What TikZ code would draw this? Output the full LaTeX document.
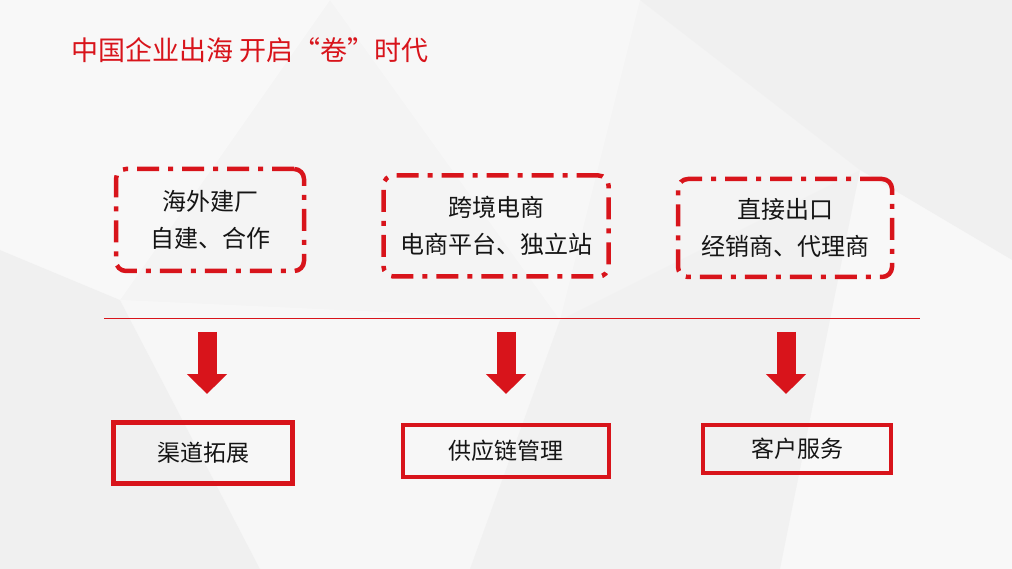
\documentclass[tikz,border=0pt]{standalone}
\usepackage{fontspec}
\setmainfont{Noto Sans CJK SC}
\usetikzlibrary{arrows.meta}
\definecolor{hred}{HTML}{D8141B}
\definecolor{ink}{HTML}{151515}
\tikzset{
  dashbox/.style={draw=hred, line width=4.5pt, rounded corners=10pt,
    dash pattern=on 22pt off 9pt on 5pt off 9pt, align=center,
    font=\fontsize{24}{37}\selectfont, text=ink, inner sep=0pt},
  solidbox/.style={draw=hred, line width=4.5pt, font=\fontsize{23}{26}\selectfont,
    text=ink, inner sep=0pt},
}
\begin{document}
\begin{tikzpicture}[x=1pt,y=-1pt]
  \useasboundingbox (0,0) rectangle (1012,569);
  % background facets
  \fill[gray!9] (0,0) rectangle (1012,569);
  \fill[white,opacity=.45] (0,0) -- (330,0) -- (120,300) -- (0,250) -- cycle;
  \fill[white,opacity=.35] (330,0) -- (640,0) -- (560,320) -- cycle;
  \fill[gray!14,opacity=.5] (640,0) -- (1012,0) -- (1012,260) -- (860,170) -- cycle;
  \fill[white,opacity=.4] (860,170) -- (1012,260) -- (1012,569) -- (780,569) -- cycle;
  \fill[gray!13,opacity=.5] (0,250) -- (120,300) -- (260,569) -- (0,569) -- cycle;
  \fill[white,opacity=.3] (120,300) -- (560,320) -- (470,569) -- (260,569) -- cycle;
  \fill[gray!12,opacity=.5] (560,320) -- (860,170) -- (780,569) -- (470,569) -- cycle;
  \node[text=hred, font=\fontsize{27}{30}\selectfont, anchor=west] (title) at (68,50) {中国企业出海 开启“卷”时代};
  % top boxes
  \node[dashbox, minimum width=188pt, minimum height=102pt] (factory) at (210,220) {海外建厂\\自建、合作};
  \node[dashbox, minimum width=225pt, minimum height=101pt] (ecom) at (496,226) {跨境电商\\电商平台、独立站};
  \node[dashbox, minimum width=214pt, minimum height=98pt] (export) at (785,228) {直接出口\\经销商、代理商};
  \coordinate (l1) at (104,318); \coordinate (l2) at (920,318);
  \draw[hred, line width=.8pt] (l1) -- (l2);
  % bottom boxes
  \node[solidbox, minimum width=179pt, minimum height=61pt] (channel) at (203,453) {渠道拓展};
  \node[solidbox, minimum width=206pt, minimum height=52pt] (supply) at (506,451) {供应链管理};
  \node[solidbox, minimum width=188pt, minimum height=48pt] (service) at (797,449) {客户服务};
  % block arrows
  \foreach \x/\n in {207/a, 506/b, 786/c}{
    \coordinate (\n top) at (\x,332); \coordinate (\n tip) at (\x,394);
    \draw[hred, line width=19pt, -{Triangle[length=20pt,width=39pt]}] (\n top) -- (\n tip);
  }
\end{tikzpicture}
\end{document}
